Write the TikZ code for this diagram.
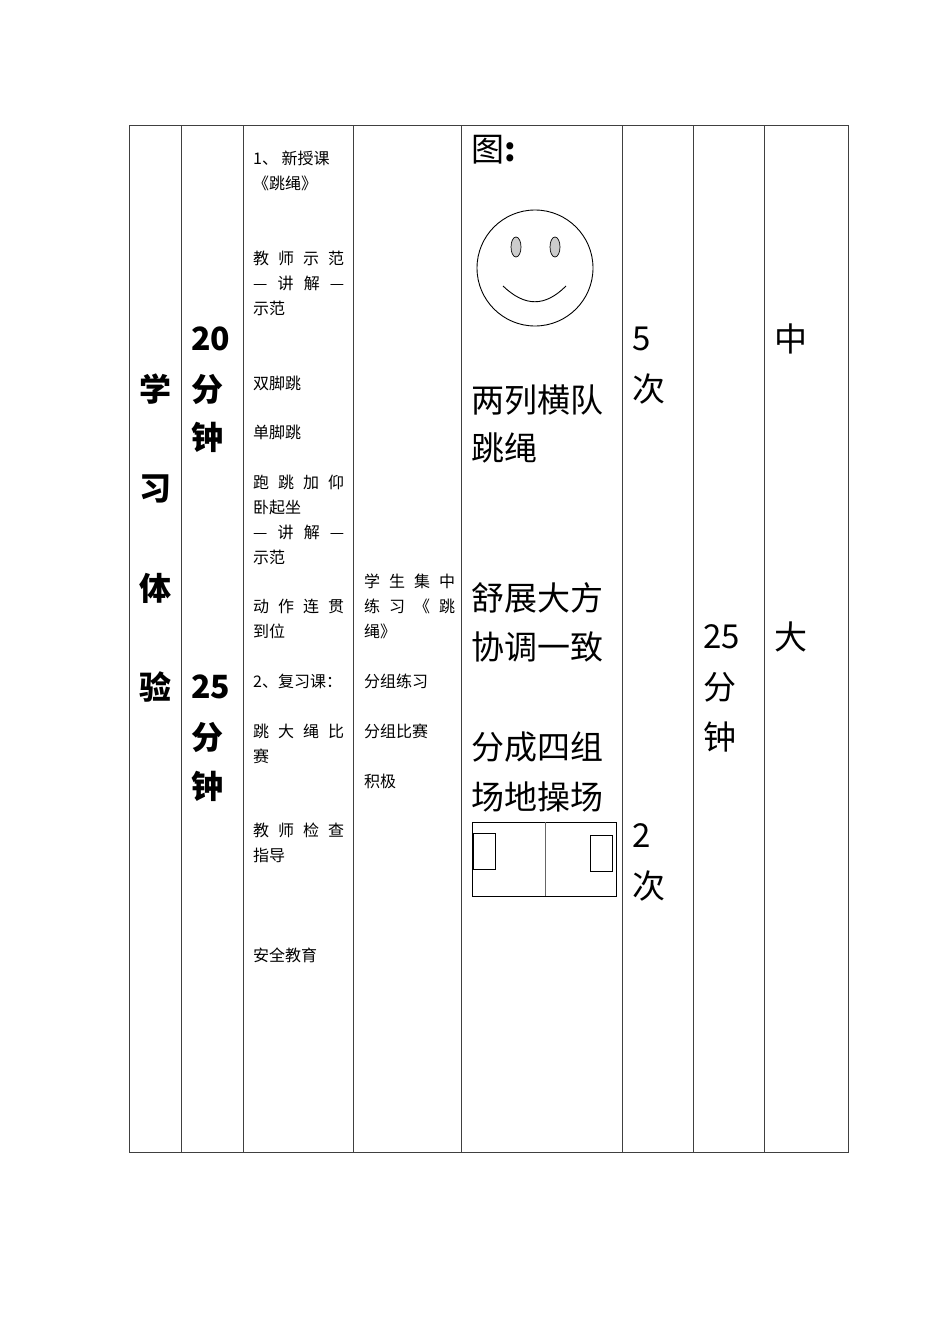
\documentclass[tikz,border=0pt]{standalone}
\usepackage{fontspec}
\setmainfont{Liberation Serif}
\newfontfamily\cjk{Noto Sans CJK SC}
\begin{document}
\begin{tikzpicture}[x=1pt,y=-1pt,
  sm/.style={anchor=west,inner sep=0,font=\cjk\fontsize{16}{16}\selectfont},
  big/.style={anchor=west,inner sep=0,font=\cjk\fontsize{33}{33}\selectfont},
  bb/.style={anchor=west,inner sep=0,font=\cjk\bfseries\fontsize{32}{32}\selectfont},
  ln/.style={draw=black!75,line width=0.8pt}]
\useasboundingbox (0,0) rectangle (950,1344);
\path[ln] (129,125) rectangle (848,1152);
\foreach \x in {181,243,353,461,622,693,764} \draw[ln] (\x,125) -- (\x,1152);
\newcommand{\J}[1]{\makebox[91pt][s]{#1}}
% col1
\foreach \t/\y [count=\i] in {学/389,习/489,体/588,验/687} \node[bb,anchor=center] (c1\i) at (155,\y) {\t};
% col2
\foreach \t/\y [count=\i] in {20/339,分/389,钟/437,25/687,分/737,钟/786} \node[bb] (c2\i) at (191,\y) {\t};
% col3
\node[sm] (a1) at (253,158) {1、 新授课};
\node[sm] (a2) at (253,183) {《跳绳》};
\node[sm] (a3) at (253,258) {\J{教\hfil 师\hfil 示\hfil 范}};
\node[sm] (a4) at (253,283) {\J{—\hfil 讲\hfil 解\hfil —}};
\node[sm] (a5) at (253,308) {示范};
\node[sm] (a6) at (253,383) {双脚跳};
\node[sm] (a7) at (253,432) {单脚跳};
\node[sm] (a8) at (253,482) {\J{跑\hfil 跳\hfil 加\hfil 仰}};
\node[sm] (a9) at (253,507) {卧起坐};
\node[sm] (a10) at (253,532) {\J{—\hfil 讲\hfil 解\hfil —}};
\node[sm] (a11) at (253,557) {示范};
\node[sm] (a12) at (253,606) {\J{动\hfil 作\hfil 连\hfil 贯}};
\node[sm] (a13) at (253,631) {到位};
\node[sm] (a14) at (253,681) {2、复习课：};
\node[sm] (a15) at (253,731) {\J{跳\hfil 大\hfil 绳\hfil 比}};
\node[sm] (a16) at (253,756) {赛};
\node[sm] (a17) at (253,830) {\J{教\hfil 师\hfil 检\hfil 查}};
\node[sm] (a18) at (253,855) {指导};
\node[sm] (a19) at (253,955) {安全教育};
% col4
\node[sm] (b1) at (364,581) {\J{学\hfil 生\hfil 集\hfil 中}};
\node[sm] (b2) at (364,606) {\J{练\hfil 习\hfil 《\hfil 跳}};
\node[sm] (b3) at (364,631) {绳》};
\node[sm] (b4) at (364,681) {分组练习};
\node[sm] (b5) at (364,731) {分组比赛};
\node[sm] (b6) at (364,781) {积极};
% col5
\node[big] (d1) at (471,150) {图\textbf{:}};
\node[big] (d2) at (471,400) {两列横队};
\node[big] (d3) at (471,448) {跳绳};
\node[big] (d4) at (471,598) {舒展大方};
\node[big] (d5) at (471,647) {协调一致};
\node[big] (d6) at (471,747) {分成四组};
\node[big] (d7) at (471,797) {场地操场};
% smiley
\draw[line width=0.9pt] (535,268) circle (58);
\draw[fill=black!20,line width=0.7pt] (516,247) ellipse (5 and 10);
\draw[fill=black!20,line width=0.7pt] (555,247) ellipse (5 and 10);
\draw[line width=0.9pt] (503,286) .. controls (525,307) and (545,307) .. (566,286);
% court
\draw[line width=0.8pt] (472,822) rectangle (616,896);
\draw[line width=0.8pt,black!60] (545,822) -- (545,896);
\draw[line width=1pt] (473,833) rectangle (495,869);
\draw[line width=1pt] (590,835) rectangle (612,871);
% col6-8
\foreach \t/\y [count=\i] in {5/339,次/389,2/836,次/886} \node[big] (e\i) at (632,\y) {\t};
\foreach \t/\y [count=\i] in {25/637,分/687,钟/737} \node[big] (f\i) at (703,\y) {\t};
\node[big] (g1) at (774,339) {中};
\node[big] (g2) at (774,637) {大};
\end{tikzpicture}
\end{document}
